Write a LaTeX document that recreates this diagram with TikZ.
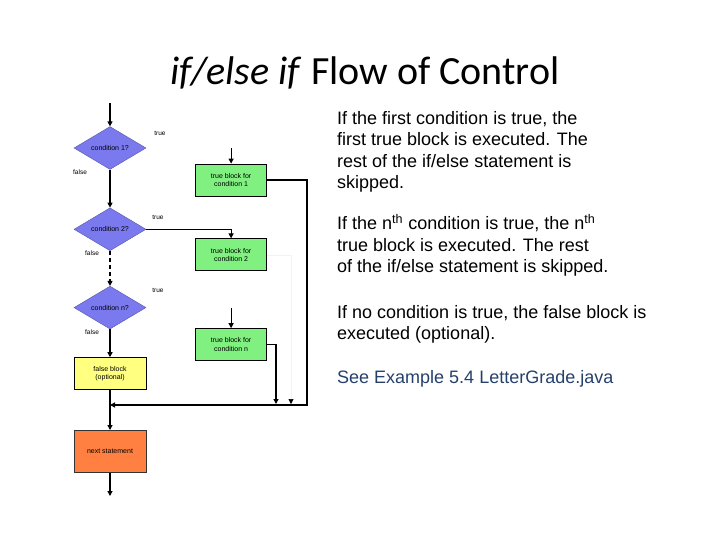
\documentclass[tikz,border=0pt]{standalone}
\usepackage{fontspec}
\setmainfont{Liberation Sans}
\newfontfamily\titlefont{Carlito}
\usetikzlibrary{shapes.geometric, arrows.meta, positioning}
\definecolor{cCond}{RGB}{122, 122, 238}
\definecolor{cTrue}{RGB}{128, 240, 128}
\definecolor{cFalse}{RGB}{255, 255, 128}
\definecolor{cNext}{RGB}{255, 128, 64}
\definecolor{cLink}{RGB}{38, 64, 110}
\tikzset{
    % condition diamonds
    condNode/.style={
        diamond, fill=cCond, draw=cCond!70!black, line width=0.4pt,
        minimum width=72pt, minimum height=42pt, inner sep=0pt,
        font=\fontsize{7}{8}\selectfont
    },
    % statement blocks
    blockNode/.style={
        rectangle, draw=black, line width=0.8pt,
        minimum width=71pt, minimum height=32pt, inner sep=1pt,
        align=center, font=\fontsize{7}{8.5}\selectfont
    },
    % true / false labels
    tagNode/.style={
        inner sep=0pt, font=\fontsize{6.5}{7}\selectfont
    },
    % explanation text (first line baseline sits 15pt below the anchor)
    noteNode/.style={
        anchor=north west, inner sep=0pt, align=left,
        font=\fontsize{18}{21.5}\selectfont
    },
    % arrows
    flow/.style={
        -{Triangle[width=5pt, length=5pt]}, line width=1.1pt, draw=black
    }
}

\begin{document}
\begin{tikzpicture}[x=1pt, y=-1pt]

	\useasboundingbox[fill=white] (0,0) rectangle (720,540);

	% 1. Title
	\node[inner sep=0pt, anchor=base, font=\titlefont\fontsize{40}{44}\selectfont] (title) at (365,85)
		{\textit{if/else if} Flow of Control};

	% 2. Conditions and false path
	\node[condNode] (c1) at (110,148) {condition 1?};
	\node[condNode, below=38pt of c1] (c2) {condition 2?};
	\node[condNode, below=35pt of c2] (cn) {condition n?};
	\node[blockNode, fill=cFalse, minimum width=72pt, below=28pt of cn] (fb) {false block\\(optional)};
	\node[blockNode, fill=cNext, draw=black!80, minimum width=72pt, minimum height=42pt, below=40pt of fb] (ns) {next statement};

	% 3. True blocks
	\node[blockNode, fill=cTrue, right=49pt of c1, yshift=-32pt] (t1) {true block for\\condition 1};
	\node[blockNode, fill=cTrue, below=42pt of t1] (t2) {true block for\\condition 2};
	\node[blockNode, fill=cTrue, below=57pt of t2] (tn) {true block for\\condition n};

	% 4. Labels
	\node[tagNode] (c1True) at (160,133) {true};
	\node[tagNode] (c1False) at (80,172) {false};
	\node[tagNode] (c2True) at (158,217) {true};
	\node[tagNode] (c2False) at (92,253) {false};
	\node[tagNode] (cnTrue) at (158,290) {true};
	\node[tagNode] (cnFalse) at (92,332) {false};

	% 5. Connectors
	\coordinate (in) at (110,103);
	\coordinate (out) at (110,496);
	\coordinate (join) at (110,405);
	\coordinate (rail) at (307,405);
	\coordinate (t1In) at (t1.north |- c1);
	\coordinate (tnIn) at (tn.north |- cn);
	\coordinate (t2End) at (291,404);
	\coordinate (tnEnd) at (276,404);

	\draw[flow] (in) -- (c1.north);
	\draw[flow] (c1.south) -- (c2.north);
	\draw[flow, dash pattern=on 4pt off 3pt] (c2.south) -- (cn.north);
	\draw[flow] (cn.south) -- (fb.north);
	\draw[flow] (fb.south) -- (ns.north);
	\draw[flow] (ns.south) -- (out);

	\draw[flow] (t1In) -- (t1.north);
	\draw[flow] (c2.east) -| (t2.north);
	\draw[flow] (tnIn) -- (tn.north);

	\draw[flow] (t1.east) -| (rail) -- (join);
	\draw[line width=0.6pt, draw=black!5, -{Triangle[width=5pt, length=5pt, color=black]}] (t2.east) -| (t2End);
	\draw[flow] (tn.east) -| (tnEnd);

	% 6. Explanations
	\node[noteNode] (note1) at (337,109) {\strut If the first condition is true, the\\first true block is executed. The\\rest of the if/else statement is\\skipped.};
	\node[noteNode] (note2) at (337,214) {\strut If the n\textsuperscript{th} condition is true, the n\textsuperscript{th}\\true block is executed. The rest\\of the if/else statement is skipped.};
	\node[noteNode] (note3) at (337,303) {\strut If no condition is true, the false block is\\executed (optional).};
	\node[noteNode, text=cLink] (note4) at (337,368) {\strut See Example 5.4 LetterGrade.java};

\end{tikzpicture}
\end{document}
